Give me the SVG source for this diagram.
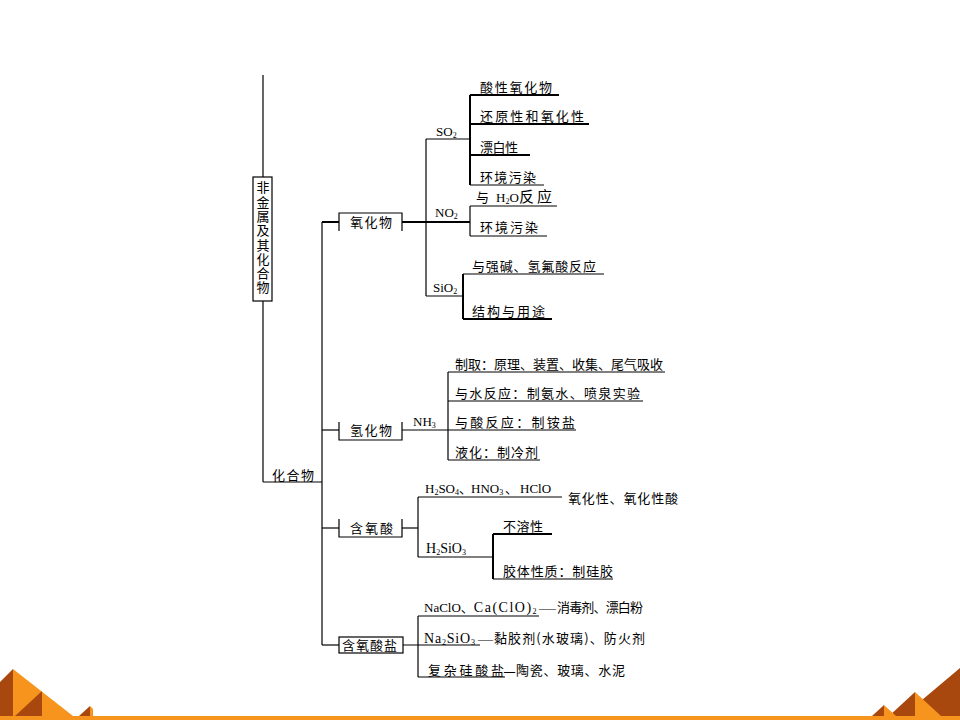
<svg xmlns="http://www.w3.org/2000/svg" width="960" height="720" viewBox="0 0 960 720">
<style>
.l{stroke:#000;stroke-width:1.2;fill:none}
.k{stroke:#000;stroke-width:2;fill:none}
.zh{font-family:"Noto Sans CJK SC","Noto Sans CJK JP",sans-serif;font-size:13px;fill:#000}
.en{font-family:"Liberation Serif",serif;font-size:13px;fill:#000}
.sb{font-size:8px}
.or{fill:#F7941D}
.dk{fill:#A8480E}
</style>
<rect width="960" height="720" fill="#fff"/>
<g id="decor">
<polygon class="dk" points="0,682 13,669 13,716 0,716"/>
<polygon class="or" points="13,669 73,716 13,716"/>
<polygon class="dk" points="15,716 42,691 42,716"/>
<polygon class="dk" points="79,716 90,706 90,716"/>
<polygon class="or" points="90,706 93,709 93,716 90,716"/>
<polygon class="dk" points="960,668 903,716 960,716"/>
<polygon class="dk" points="889,716 915,692 915,716"/>
<polygon class="or" points="915,692 941,716 915,716"/>
<polygon class="dk" points="872,716 884,705 884,716"/>
<polygon class="or" points="884,705 896,716 884,716"/>
<rect class="or" x="0" y="716" width="960" height="4"/>
</g>
<g id="connectors">
<line class="l" x1="263" y1="75" x2="263" y2="177"/>
<line class="l" x1="263" y1="301" x2="263" y2="482"/>
<line class="l" x1="263" y1="482" x2="322" y2="482"/>
<line class="l" x1="322" y1="222" x2="322" y2="645"/>
<line class="k" x1="322" y1="222" x2="339" y2="222"/>
<line class="k" x1="402" y1="222" x2="470" y2="222"/>
<line class="l" x1="426" y1="139" x2="426" y2="296"/>
<line class="l" x1="426" y1="139" x2="470" y2="139"/>
<line class="l" x1="426" y1="296" x2="463" y2="296"/>
<line class="k" x1="470" y1="95" x2="470" y2="185"/>
<line class="k" x1="470" y1="95" x2="559" y2="95"/>
<line class="k" x1="470" y1="124" x2="589" y2="124"/>
<line class="k" x1="470" y1="155" x2="530" y2="155"/>
<line class="l" x1="470" y1="185" x2="544" y2="185"/>
<line class="l" x1="470" y1="206" x2="470" y2="236"/>
<line class="l" x1="470" y1="206" x2="557" y2="206"/>
<line class="l" x1="470" y1="236" x2="547" y2="236"/>
<line class="k" x1="463" y1="274" x2="463" y2="319"/>
<line class="l" x1="463" y1="274" x2="604" y2="274"/>
<line class="k" x1="463" y1="319" x2="552" y2="319"/>
<line class="l" x1="322" y1="430" x2="339" y2="430"/>
<line class="l" x1="402" y1="430" x2="448" y2="430"/>
<line class="l" x1="448" y1="372" x2="448" y2="460"/>
<line class="l" x1="448" y1="372" x2="665" y2="372"/>
<line class="l" x1="448" y1="401" x2="643" y2="401"/>
<line class="l" x1="448" y1="430" x2="576" y2="430"/>
<line class="l" x1="448" y1="460" x2="540" y2="460"/>
<line class="l" x1="322" y1="528" x2="339" y2="528"/>
<line class="l" x1="402" y1="528" x2="418" y2="528"/>
<line class="l" x1="418" y1="497" x2="418" y2="557"/>
<line class="l" x1="418" y1="497" x2="562" y2="497"/>
<line class="l" x1="418" y1="557" x2="493" y2="557"/>
<line class="k" x1="493" y1="534" x2="493" y2="579"/>
<line class="k" x1="493" y1="534" x2="552" y2="534"/>
<line class="l" x1="493" y1="579" x2="613" y2="579"/>
<line class="l" x1="322" y1="645" x2="339" y2="645"/>
<line class="l" x1="403" y1="645" x2="480" y2="645"/>
<line class="l" x1="418" y1="616" x2="418" y2="677"/>
<line class="l" x1="418" y1="616" x2="539" y2="616"/>
<line class="l" x1="418" y1="677" x2="505" y2="677"/>
</g>
<g id="root">
<rect class="l" x="253" y="177" width="19" height="124"/>
<text class="zh" x="263" y="181" writing-mode="vertical-rl" textLength="113" lengthAdjust="spacing">非金属及其化合物</text>
</g>
<g id="compound">
<text class="zh" x="272" y="480" textLength="42" lengthAdjust="spacing">化合物</text>
</g>
<g id="oxide">
<path class="l" d="M339,231 V213 H402 V231"/>
<text class="zh" x="350" y="227" textLength="42" lengthAdjust="spacing">氧化物</text>
</g>
<g id="so2">
<text class="en" x="436" y="136">SO<tspan class="sb" dy="2">2</tspan></text>
<text class="zh" x="480" y="92" textLength="72" lengthAdjust="spacing">酸性氧化物</text>
<text class="zh" x="480" y="121" textLength="104" lengthAdjust="spacing">还原性和氧化性</text>
<text class="zh" x="480" y="152" textLength="38" lengthAdjust="spacing">漂白性</text>
<text class="zh" x="480" y="182" textLength="56" lengthAdjust="spacing">环境污染</text>
</g>
<g id="no2">
<text class="en" x="435" y="217">NO<tspan class="sb" dy="2">2</tspan></text>
<text class="zh" x="476" y="202">与</text>
<text class="en" x="496" y="202">H<tspan class="sb" dy="2">2</tspan><tspan dy="-2">O</tspan></text>
<text class="zh" x="519" y="202" style="font-size:15px;letter-spacing:3px">反应</text>
<text class="zh" x="480" y="232" textLength="58" lengthAdjust="spacing">环境污染</text>
</g>
<g id="sio2">
<text class="en" x="433" y="292">SiO<tspan class="sb" dy="2">2</tspan></text>
<text class="zh" x="472" y="271" textLength="124" lengthAdjust="spacing">与强碱、氢氟酸反应</text>
<text class="zh" x="472" y="316" textLength="73" lengthAdjust="spacing">结构与用途</text>
</g>
<g id="hydride">
<path class="l" d="M339,422 V440 H402 V422"/>
<text class="zh" x="350" y="435" textLength="42" lengthAdjust="spacing">氢化物</text>
</g>
<g id="nh3">
<text class="en" x="413" y="426">NH<tspan class="sb" dy="2">3</tspan></text>
<text class="zh" x="455" y="369" textLength="208" lengthAdjust="spacing">制取：原理、装置、收集、尾气吸收</text>
<text class="zh" x="455" y="398" textLength="185" lengthAdjust="spacing">与水反应：制氨水、喷泉实验</text>
<text class="zh" x="455" y="427" textLength="120" lengthAdjust="spacing">与酸反应：制铵盐</text>
<text class="zh" x="455" y="457" textLength="83" lengthAdjust="spacing">液化：制冷剂</text>
</g>
<g id="oxyacid">
<path class="l" d="M339,519 V537 H402 V519"/>
<text class="zh" x="350" y="533" textLength="43" lengthAdjust="spacing">含氧酸</text>
</g>
<g id="acids">
<text class="en" x="425" y="493">H<tspan class="sb" dy="2">2</tspan><tspan dy="-2">SO</tspan><tspan class="sb" dy="2">4</tspan><tspan class="zh" x="459" dy="-2">、</tspan><tspan x="471">HNO</tspan><tspan class="sb" dy="2">3</tspan><tspan class="zh" x="505" dy="-2">、</tspan><tspan x="520">HClO</tspan></text>
<text class="zh" x="568" y="503" textLength="110" lengthAdjust="spacing">氧化性、氧化性酸</text>
<text class="en" x="426" y="553" style="font-size:14px">H<tspan class="sb" dy="2">2</tspan><tspan dy="-2">SiO</tspan><tspan class="sb" dy="2">3</tspan></text>
<text class="zh" x="503" y="531" textLength="40" lengthAdjust="spacing">不溶性</text>
<text class="zh" x="503" y="576" textLength="110" lengthAdjust="spacing">胶体性质：制硅胶</text>
</g>
<g id="oxysalt">
<rect class="l" x="339" y="637" width="64" height="16"/>
<text class="zh" x="342" y="650" textLength="55" lengthAdjust="spacing">含氧酸盐</text>
</g>
<g id="salts">
<text class="en" x="424" y="612">NaClO<tspan class="zh">、</tspan><tspan style="font-size:14px;letter-spacing:1.5px">Ca(ClO)</tspan><tspan class="sb" dy="2">2</tspan></text>
<text class="en" x="539" y="612" textLength="17" lengthAdjust="spacingAndGlyphs">—</text>
<text class="zh" x="557" y="612" textLength="86" lengthAdjust="spacing">消毒剂、漂白粉</text>
<text class="en" x="424" y="643" style="font-size:14px;letter-spacing:0.8px">Na<tspan class="sb" dy="2">2</tspan><tspan dy="-2">SiO</tspan><tspan class="sb" dy="2">3</tspan></text>
<text class="en" x="478" y="643" textLength="15" lengthAdjust="spacingAndGlyphs">—</text>
<text class="zh" x="494" y="643" textLength="151" lengthAdjust="spacing">黏胶剂(水玻璃)、防火剂</text>
<text class="zh" x="428" y="675" textLength="76" lengthAdjust="spacing">复杂硅酸盐</text>
<text class="en" x="504" y="675" textLength="11" lengthAdjust="spacingAndGlyphs" style="font-weight:bold">—</text>
<text class="zh" x="516" y="675" textLength="109" lengthAdjust="spacing">陶瓷、玻璃、水泥</text>
</g>
</svg>
